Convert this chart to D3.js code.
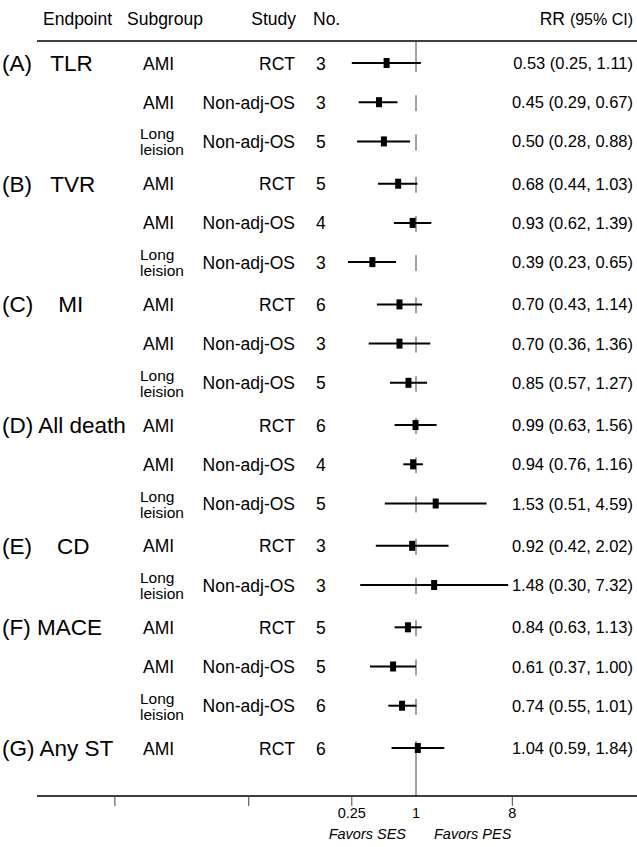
<!DOCTYPE html>
<html>
<head>
<meta charset="utf-8">
<script src="https://cdn.jsdelivr.net/npm/d3@7"></script>
<style>
  html, body { margin: 0; padding: 0; background: #fff; }
  svg { display: block; font-family: "Liberation Sans", Arial, sans-serif; }
  text { white-space: pre; fill: #000; }
</style>
</head>
<body>
<svg id="chart" width="637" height="847"></svg>
<script>
// ---- Data ----
const endpointLabels = ["(A)   TLR", "", "", "(B)   TVR", "", "", "(C)    MI", "", "", "(D) All death", "", "", "(E)    CD", "", "(F) MACE", "", "", "(G) Any ST"];
const groupIndex = [0,0,0, 1,1,1, 2,2,2, 3,3,3, 4,4, 5,5,5, 6];
const subgroups = ["AMI", "AMI", "Long|leision", "AMI", "AMI", "Long|leision", "AMI", "AMI", "Long|leision", "AMI", "AMI", "Long|leision", "AMI", "Long|leision", "AMI", "AMI", "Long|leision", "AMI"];
const studies = ["RCT", "Non-adj-OS", "Non-adj-OS", "RCT", "Non-adj-OS", "Non-adj-OS", "RCT", "Non-adj-OS", "Non-adj-OS", "RCT", "Non-adj-OS", "Non-adj-OS", "RCT", "Non-adj-OS", "RCT", "Non-adj-OS", "Non-adj-OS", "RCT"];
const counts = [3, 3, 5, 5, 4, 3, 6, 3, 5, 6, 4, 5, 3, 3, 5, 5, 6, 6];
const rr    = [0.53, 0.45, 0.50, 0.68, 0.93, 0.39, 0.70, 0.70, 0.85, 0.99, 0.94, 1.53, 0.92, 1.48, 0.84, 0.61, 0.74, 1.04];
const lower = [0.25, 0.29, 0.28, 0.44, 0.62, 0.23, 0.43, 0.36, 0.57, 0.63, 0.76, 0.51, 0.42, 0.30, 0.63, 0.37, 0.55, 0.59];
const upper = [1.11, 0.67, 0.88, 1.03, 1.39, 0.65, 1.14, 1.36, 1.27, 1.56, 1.16, 4.59, 2.02, 7.32, 1.13, 1.00, 1.01, 1.84];
const tickValues = [0.25, 1, 8];
const tickLabels = ["0.25", "1", "8"];
const extraTicks = [0.0015, 0.027];
const headers = ["Endpoint", "Subgroup", "Study", "No."];

// ---- Layout ----
const svg = d3.select("#chart");
const headerLineY = 41, axisY = 796;
const x = d3.scaleLog().domain([0.25, 8]).range([351.8, 512.3]);
const gapFrac = 0.079;
const slot = (i) => i + gapFrac * groupIndex[i];
const y = d3.scaleLinear().domain([0, slot(rr.length - 1)]).range([63, 748]);
const fmt = d3.format(".2f");

// Header
const hdr = svg.append("g").attr("font-size", 17.5);
hdr.append("text").attr("x", 43).attr("y", 25).text(headers[0]);
hdr.append("text").attr("x", 127).attr("y", 25).text(headers[1]);
hdr.append("text").attr("x", 296).attr("y", 25).attr("text-anchor", "end").text(headers[2]);
hdr.append("text").attr("x", 313).attr("y", 25).text(headers[3]);
const rrH = hdr.append("text").attr("x", 633).attr("y", 25).attr("text-anchor", "end");
rrH.append("tspan").text("RR ");
rrH.append("tspan").attr("font-size", 16).text("(95% CI)");

svg.append("line").attr("x1", 37).attr("x2", 637).attr("y1", headerLineY).attr("y2", headerLineY)
  .attr("stroke", "#000").attr("stroke-width", 1.5);

// Rows
const idx = d3.range(rr.length);
const rows = svg.append("g").selectAll("g").data(idx).join("g");

rows.append("text").attr("x", 2).attr("y", i => y(slot(i)) + 8)
  .attr("font-size", 22.5).text(i => endpointLabels[i]);

rows.each(function(i) {
  const g = d3.select(this);
  const yy = y(slot(i));
  const parts = subgroups[i].split("|");
  if (parts.length === 1) {
    g.append("text").attr("x", 143).attr("y", yy + 6.5).attr("font-size", 17.5).text(parts[0]);
  } else {
    g.append("text").attr("x", 140).attr("y", yy - 2).attr("font-size", 15.5).text(parts[0]);
    g.append("text").attr("x", 140).attr("y", yy + 14).attr("font-size", 15.5).text(parts[1]);
  }
});

rows.append("text").attr("x", 295).attr("y", i => y(slot(i)) + 6.5)
  .attr("text-anchor", "end").attr("font-size", 17.5).text(i => studies[i]);
rows.append("text").attr("x", 316).attr("y", i => y(slot(i)) + 6.5)
  .attr("font-size", 17.5).text(i => counts[i]);
rows.append("text").attr("x", 633).attr("y", i => y(slot(i)) + 6)
  .attr("text-anchor", "end").attr("font-size", 16.5)
  .text(i => `${fmt(rr[i])} (${fmt(lower[i])}, ${fmt(upper[i])})`);

// Reference line segments at RR = 1
rows.append("line")
  .attr("x1", x(1)).attr("x2", x(1))
  .attr("y1", i => i === 0 ? headerLineY : y(slot(i)) - 7)
  .attr("y2", i => i === rr.length - 1 ? axisY : y(slot(i)) + 9)
  .attr("stroke", "#444").attr("stroke-width", 1);

// CI lines
rows.append("line")
  .attr("x1", i => x(lower[i])).attr("x2", i => x(upper[i]))
  .attr("y1", i => y(slot(i))).attr("y2", i => y(slot(i)))
  .attr("stroke", "#000").attr("stroke-width", 2);

// Point boxes
rows.append("rect")
  .attr("x", i => x(rr[i]) - 3).attr("y", i => y(slot(i)) - 5)
  .attr("width", 6).attr("height", 10).attr("fill", "#000");

// Axis
svg.append("line").attr("x1", 37).attr("x2", 637).attr("y1", axisY).attr("y2", axisY)
  .attr("stroke", "#000").attr("stroke-width", 1.5);
const tickG = svg.append("g");
tickG.selectAll("line.tk").data(extraTicks.concat(tickValues.filter(v => v !== 1))).join("line")
  .attr("class", "tk")
  .attr("x1", d => x(d)).attr("x2", d => x(d))
  .attr("y1", axisY).attr("y2", axisY + 10)
  .attr("stroke", "#444").attr("stroke-width", 1);
tickG.selectAll("text").data(tickValues).join("text")
  .attr("x", d => x(d)).attr("y", axisY + 22)
  .attr("text-anchor", "middle").attr("font-size", 14.5)
  .text((d, i) => tickLabels[i]);

svg.append("text").attr("x", x(1) - 10).attr("y", axisY + 43)
  .attr("text-anchor", "end").attr("font-size", 14.5).attr("font-style", "italic").text("Favors SES");
svg.append("text").attr("x", x(1) + 18).attr("y", axisY + 43)
  .attr("font-size", 14.5).attr("font-style", "italic").text("Favors PES");
</script>
</body>
</html>
